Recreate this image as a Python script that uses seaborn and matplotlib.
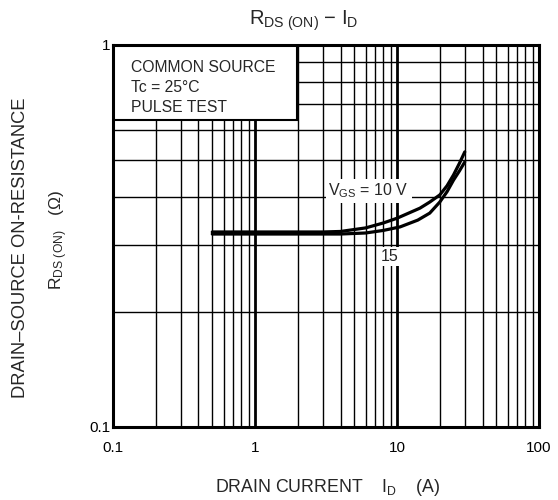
import numpy as np
import pandas as pd
import seaborn as sns
import matplotlib.pyplot as plt
from matplotlib.patches import Rectangle
from matplotlib.ticker import LogLocator, NullFormatter, FixedFormatter, FixedLocator

# valores
id_10v = [0.5, 1, 2, 3, 4, 6, 8, 10, 14.5, 17, 20, 22.5, 25, 27.5, 30]
rds_10v = [0.324, 0.324, 0.324, 0.324, 0.325, 0.332, 0.342, 0.352, 0.374, 0.388, 0.405, 0.428, 0.457, 0.49, 0.525]
id_15v = [0.5, 1, 2, 3, 4, 6, 8, 10.5, 14, 17, 20, 22.5, 25, 27.5, 30]
rds_15v = [0.320, 0.320, 0.320, 0.320, 0.320, 0.322, 0.327, 0.334, 0.348, 0.363, 0.388, 0.413, 0.443, 0.468, 0.494]

df = pd.concat([
    pd.DataFrame({'id': id_10v, 'rds': rds_10v, 'vgs': '10'}),
    pd.DataFrame({'id': id_15v, 'rds': rds_15v, 'vgs': '15'}),
])

sns.set_theme(style='white')
plt.rcParams['font.family'] = ['Liberation Sans', 'DejaVu Sans']
plt.rcParams['mathtext.fontset'] = 'custom'
plt.rcParams['mathtext.rm'] = 'Liberation Sans'
plt.rcParams['mathtext.it'] = 'Liberation Sans'

fig = plt.figure(figsize=(5.58, 5.0), dpi=100)
ax = fig.add_axes([0.2025, 0.146, 0.7635, 0.764])

sns.lineplot(data=df, x='id', y='rds', hue='vgs', palette=['black', 'black'],
             linewidth=2.3, legend=False, ax=ax, zorder=4, sort=False,
             estimator=None)

ax.set_xscale('log')
ax.set_yscale('log')
ax.set_xlim(0.1, 100)
ax.set_ylim(0.1, 1)

ax.xaxis.set_major_locator(FixedLocator([0.1, 1, 10, 100]))
ax.xaxis.set_major_formatter(FixedFormatter(['0.1', '1', '10', '100']))
ax.yaxis.set_major_locator(FixedLocator([0.1, 1]))
ax.yaxis.set_major_formatter(FixedFormatter(['0.1', '1']))
ax.xaxis.set_minor_locator(LogLocator(base=10, subs=np.arange(2, 10)))
ax.yaxis.set_minor_locator(LogLocator(base=10, subs=np.arange(2, 10)))
ax.xaxis.set_minor_formatter(NullFormatter())
ax.yaxis.set_minor_formatter(NullFormatter())
ax.tick_params(which='both', length=0, labelsize=11, colors='black')
ax.tick_params(axis='x', pad=10)
ax.tick_params(axis='y', pad=2)

ax.grid(which='minor', color='black', linewidth=1.0)
ax.grid(which='major', color='black', linewidth=2.0)
ax.set_axisbelow(True)
for s in ax.spines.values():
    s.set_color('black')
    s.set_linewidth(2.2)
    s.set_zorder(6)

ax.set_xlabel('')
ax.set_ylabel('')

# caixa de condições
ax.add_patch(Rectangle((0, 0.804), 0.432, 0.196, transform=ax.transAxes,
                       facecolor='white', edgecolor='black', linewidth=1.5, zorder=5))
ax.text(0.042, 0.96, 'COMMON SOURCE\nTc = 25°C\nPULSE TEST', transform=ax.transAxes,
        fontsize=11.3, va='top', ha='left', linespacing=1.4, zorder=6)

# rótulos das curvas
ax.text(6.3, 0.415, r'V$_{\mathrm{GS}}$ = 10 V', fontsize=11.5, ha='center', va='center',
        zorder=5, bbox=dict(facecolor='white', edgecolor='none', pad=2))
ax.text(8.9, 0.28, '15', fontsize=11.5, ha='center', va='center',
        zorder=5, bbox=dict(facecolor='white', edgecolor='none', pad=1.5))

fig.text(0.545, 0.958, r'R$_{\mathrm{DS\ (ON)}}$ − I$_{\mathrm{D}}$', fontsize=14.5,
         ha='center', va='center')
fig.text(0.588, 0.026, r'DRAIN CURRENT    I$_{\mathrm{D}}$    (A)', fontsize=12.8,
         ha='center', va='center')
fig.text(0.036, 0.504, 'DRAIN–SOURCE ON-RESISTANCE', fontsize=13.2, rotation=90,
         ha='center', va='center')
fig.text(0.106, 0.52, r'R$_{\mathrm{DS\ (ON)}}$   ($\Omega$)', fontsize=12.5, rotation=90,
         ha='center', va='center')

plt.savefig('out.png', dpi=100)
